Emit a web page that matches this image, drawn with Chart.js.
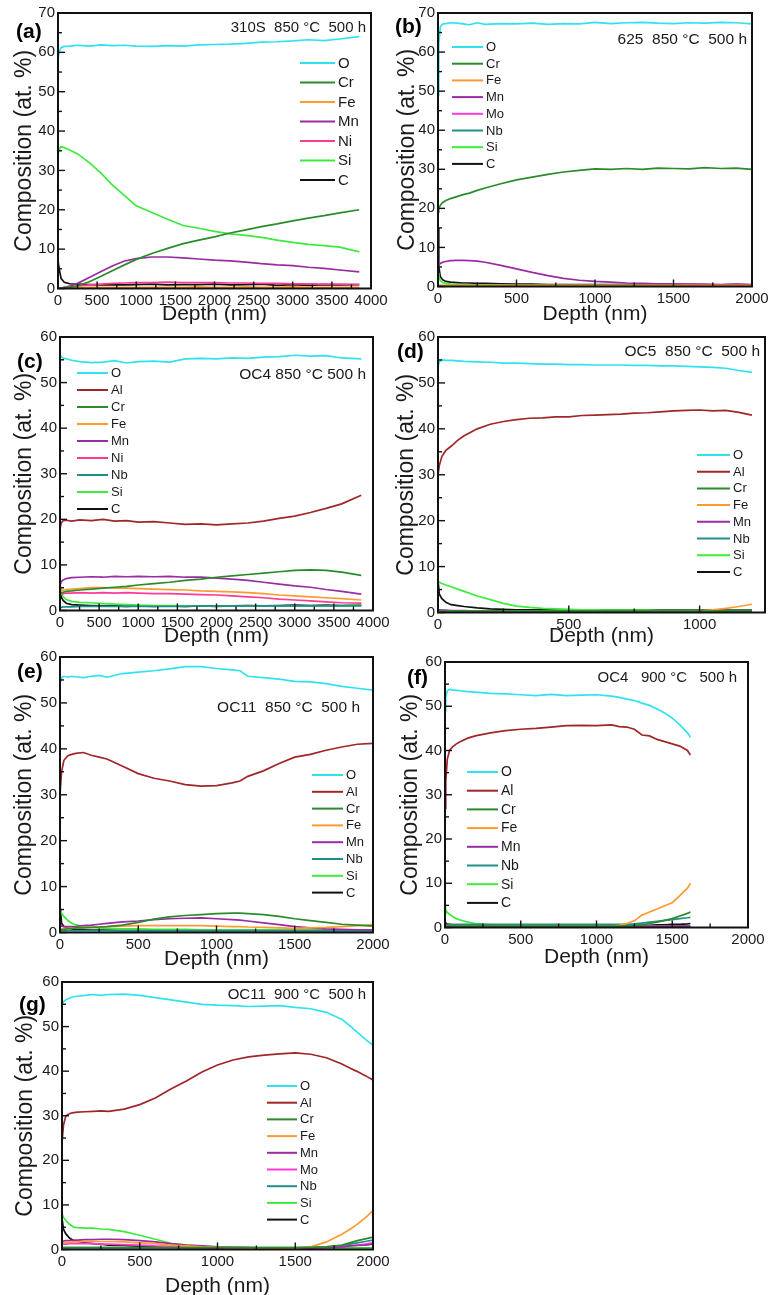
<!DOCTYPE html>
<html>
<head>
<meta charset="utf-8">
<script src="https://cdn.jsdelivr.net/npm/chart.js@4.4.1/dist/chart.umd.min.js"></script>
<style>
  html, body { margin: 0; width: 769px; height: 1295px; overflow: hidden; background: #fff; }
  canvas { position: absolute; }
</style>
</head>
<body>
<script>
// element colours
const colors = {
  O: '#2fe2f0', Al: '#a1262a', Cr: '#2b8b2b', Fe: '#ff9a30', Mn: '#992ba3',
  Ni: '#ff3a95', Mo: '#ff3ad8', Nb: '#1f8f8a', Si: '#3ceb3c', C: '#111111'
};

// ---- (a) 310S 850 C 500 h, and (c) OC4 share this depth grid ----
const depth4000 = [0, 15, 40, 80, 150, 250, 400, 550, 700, 850, 1000, 1200, 1400, 1600, 1800, 2000, 2200, 2400, 2600, 2800, 3000, 3200, 3400, 3600, 3850];

const aO  = [58, 60.2, 61.2, 61.5, 61.6, 61.8, 61.6, 61.9, 61.7, 61.8, 61.6, 61.5, 61.7, 61.6, 61.9, 62.0, 62.1, 62.3, 62.6, 62.7, 62.9, 63.2, 63.0, 63.4, 64.0];
const aCr = [0, 0, 0.1, 0.2, 0.3, 0.7, 1.7, 3.1, 4.6, 6.0, 7.4, 8.9, 10.2, 11.4, 12.3, 13.1, 14.1, 14.9, 15.7, 16.4, 17.2, 17.9, 18.5, 19.2, 20.0];
const aFe = [0, 0.1, 0.1, 0.2, 0.2, 0.2, 0.3, 0.3, 0.3, 0.3, 0.3, 0.3, 0.3, 0.3, 0.4, 0.3, 0.3, 0.4, 0.3, 0.3, 0.4, 0.3, 0.3, 0.3, 0.3];
const aMn = [0, 0, 0.1, 0.3, 0.6, 1.3, 2.8, 4.3, 5.8, 7.0, 7.6, 8.0, 8.0, 7.8, 7.5, 7.2, 7.0, 6.7, 6.3, 6.0, 5.8, 5.4, 5.1, 4.7, 4.2];
const aNi = [0, 0, 0.1, 0.2, 0.4, 0.6, 0.9, 1.1, 1.3, 1.4, 1.5, 1.5, 1.6, 1.5, 1.5, 1.5, 1.4, 1.4, 1.3, 1.3, 1.2, 1.2, 1.1, 1.1, 1.0];
const aSi = [34, 35.5, 36, 35.8, 35.2, 34.2, 32.0, 29.3, 26.2, 23.6, 21.0, 19.3, 17.6, 16.0, 15.3, 14.5, 13.9, 13.5, 13.0, 12.3, 11.7, 11.2, 10.9, 10.5, 9.3];
const aC  = [7, 5, 2.5, 1.6, 1.2, 1.1, 1.0, 0.9, 1.0, 0.9, 1.0, 1.1, 0.9, 1.0, 1.0, 1.1, 0.9, 1.0, 1.1, 0.8, 1.0, 0.8, 1.0, 0.9, 1.0];

// ---- (b) 625 850 C 500 h ----
const depthB = [0, 5, 15, 30, 50, 80, 120, 160, 200, 250, 300, 400, 500, 600, 700, 800, 900, 1000, 1100, 1200, 1300, 1400, 1500, 1600, 1700, 1800, 1900, 2000];
const bO  = [49, 62, 66.5, 67.2, 67.3, 67.5, 67.4, 67.2, 67.0, 67.5, 67.1, 67.3, 67.2, 67.4, 67.1, 67.3, 67.2, 67.6, 67.3, 67.5, 67.6, 67.4, 67.3, 67.5, 67.4, 67.6, 67.5, 67.2];
const bCr = [19, 20, 20.8, 21.5, 22.0, 22.5, 23.0, 23.5, 23.9, 24.6, 25.2, 26.3, 27.3, 28.0, 28.7, 29.3, 29.7, 30.1, 30.0, 30.2, 30.0, 30.3, 30.2, 30.1, 30.4, 30.2, 30.3, 30.0];
const bFe = [0.2, 0.3, 0.3, 0.3, 0.3, 0.3, 0.3, 0.3, 0.3, 0.3, 0.3, 0.3, 0.3, 0.3, 0.3, 0.3, 0.3, 0.3, 0.3, 0.3, 0.3, 0.3, 0.3, 0.3, 0.3, 0.3, 0.3, 0.3];
const bMn = [5, 5.5, 5.9, 6.2, 6.4, 6.6, 6.7, 6.7, 6.6, 6.5, 6.2, 5.4, 4.5, 3.6, 2.8, 2.1, 1.6, 1.3, 1.1, 0.9, 0.8, 0.7, 0.7, 0.6, 0.6, 0.5, 0.6, 0.5];
const bMo = [0.1, 0.1, 0.1, 0.1, 0.1, 0.1, 0.1, 0.1, 0.1, 0.1, 0.1, 0.1, 0.1, 0.1, 0.1, 0.1, 0.1, 0.1, 0.1, 0.1, 0.1, 0.1, 0.1, 0.1, 0.1, 0.1, 0.1, 0.1];
const bNb = [0.2, 0.2, 0.2, 0.2, 0.2, 0.2, 0.2, 0.2, 0.2, 0.2, 0.2, 0.2, 0.2, 0.2, 0.2, 0.2, 0.2, 0.2, 0.2, 0.2, 0.2, 0.2, 0.2, 0.2, 0.2, 0.2, 0.2, 0.2];
const bSi = [3.5, 2.5, 1.5, 1.0, 0.8, 0.6, 0.5, 0.5, 0.4, 0.4, 0.4, 0.3, 0.3, 0.3, 0.3, 0.3, 0.3, 0.3, 0.3, 0.3, 0.3, 0.3, 0.3, 0.3, 0.3, 0.3, 0.3, 0.3];
const bC  = [15, 5, 2.5, 1.7, 1.3, 1.1, 1.0, 0.9, 0.9, 0.8, 0.8, 0.7, 0.6, 0.6, 0.5, 0.5, 0.5, 0.5, 0.5, 0.5, 0.4, 0.5, 0.4, 0.5, 0.4, 0.4, 0.5, 0.4];

// ---- (c) OC4 850 C 500 h ----
const cO  = [56, 55.7, 55.4, 55.2, 54.9, 54.6, 54.4, 54.5, 54.8, 54.3, 54.6, 54.7, 54.5, 55.2, 55.3, 55.2, 55.4, 55.3, 55.6, 55.7, 56.0, 55.8, 55.9, 55.4, 55.2];
const cAl = [18, 19.2, 19.7, 19.8, 19.6, 19.9, 19.7, 20.0, 19.6, 19.7, 19.4, 19.5, 19.2, 18.9, 19.0, 18.8, 19.0, 19.2, 19.6, 20.2, 20.7, 21.5, 22.4, 23.4, 25.3];
const cCr = [3.5, 3.8, 4.0, 4.2, 4.3, 4.5, 4.7, 4.9, 5.1, 5.3, 5.6, 5.9, 6.2, 6.6, 6.9, 7.3, 7.6, 7.9, 8.2, 8.5, 8.8, 8.9, 8.8, 8.4, 7.7];
const cFe = [4.0, 4.3, 4.5, 4.6, 4.7, 4.8, 5.0, 5.0, 4.9, 4.9, 4.8, 4.7, 4.6, 4.5, 4.3, 4.2, 4.1, 3.9, 3.7, 3.4, 3.2, 3.0, 2.8, 2.6, 2.3];
const cMn = [5.5, 6.3, 6.7, 7.0, 7.2, 7.3, 7.4, 7.3, 7.5, 7.4, 7.5, 7.4, 7.5, 7.3, 7.3, 7.1, 6.9, 6.6, 6.2, 5.8, 5.4, 5.1, 4.6, 4.2, 3.6];
const cNi = [3.2, 3.5, 3.7, 3.8, 3.8, 3.9, 3.8, 3.9, 3.8, 3.9, 3.8, 3.7, 3.7, 3.6, 3.5, 3.4, 3.2, 3.0, 2.8, 2.5, 2.3, 2.1, 1.9, 1.7, 1.6];
const cNb = [0.6, 0.7, 0.8, 0.8, 0.8, 0.9, 0.9, 0.9, 0.9, 0.9, 0.9, 0.9, 0.9, 0.9, 1.0, 1.0, 1.0, 1.0, 1.0, 1.0, 1.0, 1.0, 1.0, 1.0, 1.0];
const cSi = [5, 4, 3, 2.4, 2.0, 1.8, 1.7, 1.5, 1.4, 1.3, 1.2, 1.1, 1.1, 1.0, 1.0, 1.0, 1.0, 1.0, 1.0, 1.0, 1.0, 1.0, 1.1, 1.1, 1.2];
const cC  = [6, 3, 2.2, 1.6, 1.3, 1.2, 1.1, 1.0, 1.0, 0.9, 1.0, 0.9, 1.0, 0.9, 1.0, 0.9, 1.0, 1.1, 1.0, 1.1, 1.2, 1.1, 1.2, 1.1, 1.2];

// ---- (d) OC5 850 C 500 h ----
const depthD = [0, 5, 15, 30, 50, 75, 100, 150, 200, 250, 300, 350, 400, 450, 500, 550, 600, 650, 700, 750, 800, 850, 900, 950, 1000, 1050, 1100, 1150, 1200];
const dO  = [53.5, 54.6, 55.0, 54.9, 54.9, 54.8, 54.7, 54.6, 54.5, 54.3, 54.3, 54.2, 54.1, 54.1, 54.0, 54.0, 53.9, 53.9, 53.9, 53.8, 53.8, 53.7, 53.7, 53.6, 53.5, 53.4, 53.2, 52.7, 52.3];
const dAl = [30, 32, 34, 35.3, 36.2, 37.5, 38.5, 40.0, 41.0, 41.6, 42.0, 42.3, 42.4, 42.6, 42.6, 42.9, 43.0, 43.1, 43.2, 43.4, 43.5, 43.7, 43.9, 44.0, 44.1, 43.9, 44.0, 43.6, 43.0];
const dCr = [0.4, 0.4, 0.3, 0.3, 0.3, 0.3, 0.3, 0.3, 0.3, 0.3, 0.3, 0.3, 0.3, 0.3, 0.3, 0.3, 0.3, 0.3, 0.3, 0.3, 0.3, 0.3, 0.3, 0.3, 0.3, 0.3, 0.4, 0.4, 0.4];
const dFe = [0.2, 0.2, 0.2, 0.2, 0.2, 0.2, 0.2, 0.2, 0.2, 0.2, 0.2, 0.2, 0.2, 0.2, 0.2, 0.2, 0.2, 0.2, 0.2, 0.2, 0.2, 0.2, 0.2, 0.2, 0.3, 0.6, 0.9, 1.3, 1.8];
const dMn = [0.6, 0.6, 0.5, 0.5, 0.4, 0.4, 0.4, 0.3, 0.3, 0.3, 0.2, 0.2, 0.2, 0.2, 0.2, 0.2, 0.2, 0.2, 0.2, 0.2, 0.2, 0.2, 0.2, 0.2, 0.2, 0.2, 0.2, 0.2, 0.2];
const dNb = [0.3, 0.3, 0.3, 0.3, 0.3, 0.3, 0.3, 0.3, 0.3, 0.3, 0.3, 0.3, 0.3, 0.3, 0.3, 0.3, 0.3, 0.3, 0.3, 0.3, 0.3, 0.3, 0.3, 0.3, 0.3, 0.3, 0.3, 0.3, 0.3];
const dSi = [7.0, 6.6, 6.3, 6.0, 5.6, 5.1, 4.6, 3.6, 2.8, 2.0, 1.4, 1.1, 0.9, 0.8, 0.7, 0.6, 0.6, 0.5, 0.5, 0.5, 0.5, 0.4, 0.4, 0.4, 0.4, 0.4, 0.4, 0.4, 0.4];
const dC  = [7, 4, 3, 2.2, 1.7, 1.5, 1.3, 1.0, 0.8, 0.7, 0.6, 0.6, 0.6, 0.5, 0.5, 0.5, 0.5, 0.5, 0.5, 0.5, 0.5, 0.5, 0.5, 0.5, 0.5, 0.5, 0.5, 0.5, 0.5];

// ---- (e) OC11 850 C 500 h ----
const depthE = [0, 10, 25, 50, 75, 100, 150, 200, 250, 300, 400, 500, 600, 700, 800, 900, 1000, 1100, 1150, 1200, 1300, 1400, 1500, 1600, 1700, 1800, 1900, 2000];
const eO  = [54.3, 55.5, 55.8, 55.6, 55.8, 55.7, 55.5, 55.8, 56.0, 55.6, 56.4, 56.7, 57.0, 57.4, 57.9, 57.9, 57.5, 57.2, 57.0, 55.8, 55.5, 55.2, 54.7, 54.6, 54.2, 53.6, 53.2, 52.8];
const eAl = [30, 35, 37.5, 38.5, 38.8, 39.0, 39.2, 38.6, 38.2, 37.8, 36.2, 34.6, 33.6, 33.0, 32.2, 31.9, 32.0, 32.6, 33.0, 34.0, 35.2, 36.8, 38.2, 38.8, 39.7, 40.4, 41.0, 41.2];
const eCr = [0.5, 0.6, 0.7, 0.8, 0.9, 1.0, 1.0, 1.1, 1.2, 1.3, 1.6, 2.2, 2.9, 3.4, 3.7, 3.9, 4.1, 4.2, 4.2, 4.1, 3.9, 3.5, 3.0, 2.6, 2.2, 1.8, 1.6, 1.4];
const eFe = [0.8, 0.8, 0.9, 0.9, 1.0, 1.0, 1.1, 1.1, 1.2, 1.3, 1.4, 1.5, 1.5, 1.5, 1.5, 1.5, 1.4, 1.3, 1.3, 1.2, 1.1, 1.0, 0.9, 1.0, 1.1, 1.3, 1.5, 1.7];
const eMn = [1.5, 1.4, 1.3, 1.3, 1.3, 1.3, 1.5, 1.6, 1.8, 2.0, 2.3, 2.5, 2.8, 3.0, 3.1, 3.2, 3.0, 2.8, 2.7, 2.5, 2.1, 1.7, 1.3, 1.0, 0.8, 0.7, 0.6, 0.6];
const eNb = [0.4, 0.4, 0.4, 0.4, 0.4, 0.4, 0.4, 0.4, 0.4, 0.4, 0.4, 0.4, 0.4, 0.4, 0.4, 0.4, 0.4, 0.4, 0.4, 0.4, 0.4, 0.4, 0.4, 0.4, 0.4, 0.4, 0.4, 0.4];
const eSi = [5, 4.2, 3.5, 2.6, 2.0, 1.7, 1.3, 1.1, 1.0, 0.9, 0.8, 0.8, 0.7, 0.7, 0.7, 0.6, 0.6, 0.6, 0.6, 0.6, 0.6, 0.5, 0.5, 0.5, 0.5, 0.5, 0.5, 0.5];
const eC  = [6, 2, 1.3, 1.0, 0.8, 0.7, 0.6, 0.5, 0.5, 0.5, 0.4, 0.4, 0.4, 0.4, 0.4, 0.4, 0.4, 0.4, 0.4, 0.4, 0.4, 0.4, 0.4, 0.4, 0.4, 0.4, 0.4, 0.4];

// ---- (f) OC4 900 C 500 h ----
const depthF = [0, 5, 15, 30, 50, 75, 100, 150, 200, 300, 400, 500, 600, 700, 800, 900, 1000, 1100, 1150, 1200, 1250, 1300, 1350, 1400, 1450, 1500, 1550, 1600, 1620];
const fO  = [49, 52, 53.5, 53.8, 53.7, 53.6, 53.5, 53.3, 53.2, 52.9, 52.8, 52.6, 52.4, 52.7, 52.4, 52.5, 52.6, 52.3, 52.0, 51.6, 51.3, 50.7, 50.2, 49.4, 48.5, 47.3, 45.8, 44.0, 43.0];
const fAl = [27, 33, 38, 40, 40.8, 41.5, 42.0, 42.8, 43.3, 44.0, 44.5, 44.8, 45.0, 45.3, 45.6, 45.7, 45.6, 45.8, 45.4, 45.3, 44.8, 43.5, 43.3, 42.5, 42.0, 41.5, 41.0, 40.0, 39.0];
const fCr = [0.3, 0.3, 0.3, 0.3, 0.3, 0.3, 0.3, 0.3, 0.3, 0.3, 0.3, 0.3, 0.3, 0.3, 0.3, 0.3, 0.3, 0.3, 0.3, 0.3, 0.4, 0.6, 0.9, 1.2, 1.6, 2.0, 2.6, 3.2, 3.5];
const fFe = [0.3, 0.3, 0.3, 0.3, 0.3, 0.3, 0.3, 0.3, 0.3, 0.3, 0.3, 0.3, 0.3, 0.3, 0.3, 0.3, 0.3, 0.3, 0.5, 0.9, 1.5, 2.8, 3.5, 4.2, 4.9, 5.6, 7.2, 8.9, 10.0];
const fMn = [0.8, 0.6, 0.5, 0.4, 0.4, 0.3, 0.3, 0.3, 0.3, 0.3, 0.3, 0.3, 0.3, 0.3, 0.3, 0.3, 0.3, 0.3, 0.3, 0.3, 0.3, 0.3, 0.3, 0.3, 0.3, 0.3, 0.3, 0.3, 0.3];
const fNb = [0.6, 0.7, 0.7, 0.7, 0.7, 0.7, 0.7, 0.7, 0.7, 0.7, 0.7, 0.7, 0.7, 0.7, 0.7, 0.7, 0.7, 0.7, 0.7, 0.7, 0.8, 1.0, 1.2, 1.4, 1.6, 1.8, 2.0, 2.2, 2.3];
const fSi = [4.5, 4.0, 3.4, 3.0, 2.5, 2.0, 1.7, 1.2, 0.9, 0.6, 0.5, 0.4, 0.4, 0.4, 0.4, 0.4, 0.4, 0.4, 0.4, 0.4, 0.4, 0.4, 0.4, 0.4, 0.4, 0.4, 0.4, 0.4, 0.4];
const fC  = [1.2, 1.0, 0.8, 0.7, 0.6, 0.6, 0.5, 0.5, 0.5, 0.5, 0.5, 0.5, 0.5, 0.5, 0.5, 0.5, 0.5, 0.5, 0.5, 0.5, 0.5, 0.5, 0.5, 0.6, 0.6, 0.7, 0.7, 0.8, 0.9];

// ---- (g) OC11 900 C 500 h ----
const depthG = [0, 10, 25, 50, 75, 100, 150, 200, 250, 300, 400, 500, 600, 700, 800, 900, 1000, 1100, 1200, 1300, 1400, 1500, 1600, 1700, 1800, 1850, 1900, 1950, 2000];
const gO  = [55, 55.6, 56.0, 56.4, 56.7, 56.8, 57.0, 57.2, 57.0, 57.2, 57.3, 57.0, 56.5, 56.0, 55.5, 55.0, 54.8, 54.7, 54.5, 54.6, 54.7, 54.3, 54.0, 53.2, 51.6, 50.2, 48.7, 47.2, 45.8];
const gAl = [24, 28, 30, 30.5, 30.7, 30.8, 30.9, 31.0, 31.1, 31.0, 31.5, 32.5, 34.0, 36.0, 37.8, 39.8, 41.4, 42.5, 43.2, 43.6, 43.9, 44.1, 43.8, 43.0, 41.6, 40.7, 39.9, 39.0, 38.0];
const gCr = [0.4, 0.4, 0.4, 0.4, 0.4, 0.4, 0.4, 0.4, 0.4, 0.4, 0.4, 0.4, 0.4, 0.4, 0.4, 0.4, 0.4, 0.4, 0.4, 0.4, 0.4, 0.4, 0.5, 0.6, 1.0, 1.5, 2.0, 2.4, 2.8];
const gFe = [1.5, 1.5, 1.6, 1.6, 1.7, 1.7, 1.8, 1.8, 1.8, 1.8, 1.7, 1.5, 1.3, 1.0, 0.8, 0.6, 0.5, 0.4, 0.3, 0.3, 0.3, 0.3, 0.6, 1.7, 3.4, 4.5, 5.7, 7.1, 8.7];
const gMn = [1.8, 1.9, 2.0, 2.0, 2.1, 2.1, 2.2, 2.2, 2.3, 2.3, 2.2, 2.0, 1.7, 1.3, 1.0, 0.8, 0.6, 0.5, 0.4, 0.3, 0.3, 0.3, 0.3, 0.4, 0.6, 0.8, 0.9, 1.0, 1.2];
const gMo = [1.2, 1.2, 1.2, 1.3, 1.3, 1.3, 1.3, 1.3, 1.2, 1.2, 1.1, 1.0, 0.8, 0.7, 0.6, 0.5, 0.4, 0.3, 0.3, 0.3, 0.3, 0.3, 0.3, 0.4, 0.6, 0.8, 1.0, 1.2, 1.5];
const gNb = [0.4, 0.4, 0.4, 0.4, 0.4, 0.4, 0.4, 0.4, 0.4, 0.4, 0.4, 0.4, 0.4, 0.4, 0.4, 0.4, 0.4, 0.4, 0.4, 0.4, 0.4, 0.4, 0.5, 0.6, 0.9, 1.2, 1.5, 1.8, 2.1];
const gSi = [8, 7.2, 6.5, 5.6, 5.0, 4.9, 4.8, 4.8, 4.6, 4.5, 4.0, 3.2, 2.3, 1.4, 1.0, 0.7, 0.6, 0.5, 0.4, 0.3, 0.3, 0.3, 0.3, 0.3, 0.3, 0.3, 0.3, 0.3, 0.3];
const gC  = [7, 4.5, 3.5, 2.5, 2.0, 1.8, 1.5, 1.3, 1.2, 1.0, 0.9, 0.7, 0.6, 0.5, 0.4, 0.4, 0.3, 0.3, 0.2, 0.2, 0.2, 0.2, 0.2, 0.2, 0.3, 0.3, 0.3, 0.3, 0.3];

// panel layout: frame = [left, top, right, bottom] of the plot box on the page
const panels = [
  { letter: '(a)', title: '310S  850 \u00B0C  500 h', depth: depth4000,
    series: { O: aO, Cr: aCr, Fe: aFe, Mn: aMn, Ni: aNi, Si: aSi, C: aC },
    x0: 0, frame: [58, 13, 371, 289], xMax: 4000, yMax: 70, xStep: 500,
    yTitleX: 25, xTitleY: 315, letterAt: [16, 32], titleAt: [366, 28], titleSize: 15,
    legend: { x: 300, w: 35, y: 63, dy: 19.5, size: 15 } },
  { letter: '(b)', title: '625  850 \u00B0C  500 h', depth: depthB,
    series: { O: bO, Cr: bCr, Fe: bFe, Mn: bMn, Mo: bMo, Nb: bNb, Si: bSi, C: bC },
    x0: 385, frame: [438, 13, 752, 287], xMax: 2000, yMax: 70, xStep: 500,
    yTitleX: 408, xTitleY: 315, letterAt: [395, 27], titleAt: [747, 40], titleSize: 15.5,
    legend: { x: 452, w: 31, y: 47, dy: 16.7, size: 13 } },
  { letter: '(c)', title: 'OC4 850 \u00B0C 500 h', depth: depth4000,
    series: { O: cO, Al: cAl, Cr: cCr, Fe: cFe, Mn: cMn, Ni: cNi, Nb: cNb, Si: cSi, C: cC },
    x0: 0, frame: [60, 337, 373, 611], xMax: 4000, yMax: 60, xStep: 500,
    yTitleX: 25, xTitleY: 637, letterAt: [17, 362], titleAt: [366, 375], titleSize: 15.5,
    legend: { x: 77, w: 31, y: 373, dy: 17, size: 13 } },
  { letter: '(d)', title: 'OC5  850 \u00B0C  500 h', depth: depthD,
    series: { O: dO, Al: dAl, Cr: dCr, Fe: dFe, Mn: dMn, Nb: dNb, Si: dSi, C: dC },
    x0: 385, frame: [438, 337, 765, 613], xMax: 1250, yMax: 60, xStep: 500,
    yTitleX: 407, xTitleY: 637, letterAt: [397, 352], titleAt: [760, 352], titleSize: 15.5,
    legend: { x: 697, w: 33, y: 455, dy: 16.7, size: 13 } },
  { letter: '(e)', title: 'OC11  850 \u00B0C  500 h', depth: depthE,
    series: { O: eO, Al: eAl, Cr: eCr, Fe: eFe, Mn: eMn, Nb: eNb, Si: eSi, C: eC },
    x0: 0, frame: [60, 657, 373, 933], xMax: 2000, yMax: 60, xStep: 500,
    yTitleX: 25, xTitleY: 960, letterAt: [17, 672], titleAt: [360, 708], titleSize: 15.5,
    legend: { x: 312, w: 31, y: 775, dy: 16.8, size: 13 } },
  { letter: '(f)', title: 'OC4   900 \u00B0C   500 h', depth: depthF,
    series: { O: fO, Al: fAl, Cr: fCr, Fe: fFe, Mn: fMn, Nb: fNb, Si: fSi, C: fC },
    x0: 385, frame: [445, 662, 748, 928], xMax: 2000, yMax: 60, xStep: 500,
    yTitleX: 411, xTitleY: 958, letterAt: [407, 678], titleAt: [737, 678], titleSize: 15,
    legend: { x: 467, w: 31, y: 772, dy: 18.7, size: 14 } },
  { letter: '(g)', title: 'OC11  900 \u00B0C  500 h', depth: depthG,
    series: { O: gO, Al: gAl, Cr: gCr, Fe: gFe, Mn: gMn, Mo: gMo, Nb: gNb, Si: gSi, C: gC },
    x0: 0, frame: [62, 982, 373, 1250], xMax: 2000, yMax: 60, xStep: 500,
    yTitleX: 26, xTitleY: 1287, letterAt: [19, 1005], titleAt: [366, 995], titleSize: 15,
    legend: { x: 267, w: 30, y: 1086, dy: 16.7, size: 13 } }
];

Chart.defaults.font.family = "'Liberation Sans', Arial, sans-serif";
Chart.defaults.color = '#1a1a1a';

const TOP = 16;      // space above the plot box inside each canvas
const RIGHT = 34;    // space right of the plot box
const Y_TITLE = 23;
const X_TITLE = 21;

function decor(p) {
  return {
    id: 'decor',
    afterDatasetsDraw(chart) {
      const ctx = chart.ctx, a = chart.chartArea;
      const xs = chart.scales.x, ys = chart.scales.y;
      const ox = p.x0, oy = p.frame[1] - TOP;
      ctx.save();
      // plot box
      ctx.strokeStyle = '#111';
      ctx.lineWidth = 2;
      ctx.strokeRect(a.left, a.top, a.right - a.left, a.bottom - a.top);
      // inward ticks, major with a minor in between
      ctx.lineWidth = 1.4;
      for (let v = 0; v <= p.xMax; v += p.xStep / 2) {
        const px = xs.getPixelForValue(v);
        const len = v % p.xStep === 0 ? 7 : 4;
        ctx.beginPath(); ctx.moveTo(px, a.bottom); ctx.lineTo(px, a.bottom - len); ctx.stroke();
      }
      for (let v = 0; v <= p.yMax; v += 5) {
        const py = ys.getPixelForValue(v);
        const len = v % 10 === 0 ? 7 : 4;
        ctx.beginPath(); ctx.moveTo(a.left, py); ctx.lineTo(a.left + len, py); ctx.stroke();
      }
      // legend
      const lg = p.legend;
      ctx.font = lg.size + "px 'Liberation Sans', Arial, sans-serif";
      ctx.textBaseline = 'middle';
      ctx.textAlign = 'left';
      chart.data.datasets.forEach((ds, i) => {
        const y = lg.y + i * lg.dy - oy;
        ctx.strokeStyle = ds.borderColor;
        ctx.lineWidth = 2;
        ctx.beginPath(); ctx.moveTo(lg.x - ox, y); ctx.lineTo(lg.x + lg.w - ox, y); ctx.stroke();
        ctx.fillStyle = '#1a1a1a';
        ctx.fillText(ds.label, lg.x + lg.w + 3 - ox, y + 0.5);
      });
      // sample title
      ctx.font = p.titleSize + "px 'Liberation Sans', Arial, sans-serif";
      ctx.textAlign = 'right';
      ctx.fillText(p.title, p.titleAt[0] - ox, p.titleAt[1] - oy);
      // panel letter
      ctx.font = "bold 21px 'Liberation Sans', Arial, sans-serif";
      ctx.textAlign = 'left';
      ctx.fillStyle = '#000';
      ctx.fillText(p.letter, p.letterAt[0] - ox, p.letterAt[1] - oy);
      ctx.restore();
    }
  };
}

panels.forEach(p => {
  const [l, t, r, b] = p.frame;
  const leftW = l - p.x0;
  const bottomH = p.xTitleY + X_TITLE / 2 - b;
  const canvas = document.createElement('canvas');
  canvas.width = leftW + (r - l) + RIGHT;
  canvas.height = TOP + (b - t) + bottomH;
  canvas.style.left = p.x0 + 'px';
  canvas.style.top = (t - TOP) + 'px';
  document.body.appendChild(canvas);

  // labelled depth ticks every xStep
  const xTicks = [];
  for (let v = 0; v <= p.xMax; v += p.xStep) xTicks.push({ value: v });

  const datasets = Object.keys(p.series).map(name => ({
    label: name,
    data: p.depth.map((d, i) => ({ x: d, y: p.series[name][i] })),
    borderColor: colors[name],
    borderWidth: 1.7,
    pointRadius: 0,
    tension: 0
  }));

  new Chart(canvas, {
    type: 'line',
    data: { datasets: datasets },
    options: {
      responsive: false,
      animation: false,
      devicePixelRatio: 1,
      layout: { padding: { top: TOP, right: RIGHT, left: 0, bottom: 0 } },
      plugins: { legend: { display: false }, tooltip: { enabled: false } },
      scales: {
        x: {
          type: 'linear', min: 0, max: p.xMax,
          grid: { display: false, drawTicks: false },
          border: { display: false },
          afterBuildTicks: s => { s.ticks = xTicks.map(tk => ({ value: tk.value })); },
          afterFit: s => { s.height = bottomH; },
          ticks: { padding: 3, color: '#1a1a1a', font: { size: 15 }, maxRotation: 0,
                   autoSkip: false, callback: v => String(v) },
          title: { display: true, text: 'Depth (nm)', color: '#1a1a1a',
                   font: { size: X_TITLE, lineHeight: 1 }, padding: { top: 0, bottom: 0 } }
        },
        y: {
          min: 0, max: p.yMax,
          grid: { display: false, drawTicks: false },
          border: { display: false },
          afterFit: s => { s.width = leftW; },
          ticks: { stepSize: 10, padding: 3, color: '#1a1a1a', font: { size: 15 },
                   callback: v => String(v) },
          title: { display: true, text: 'Composition (at. %)', color: '#1a1a1a',
                   font: { size: Y_TITLE, lineHeight: 1 },
                   padding: { top: p.yTitleX - p.x0 - Y_TITLE / 2, bottom: 0 } }
        }
      }
    },
    plugins: [decor(p)]
  });
});
</script>
</body>
</html>
